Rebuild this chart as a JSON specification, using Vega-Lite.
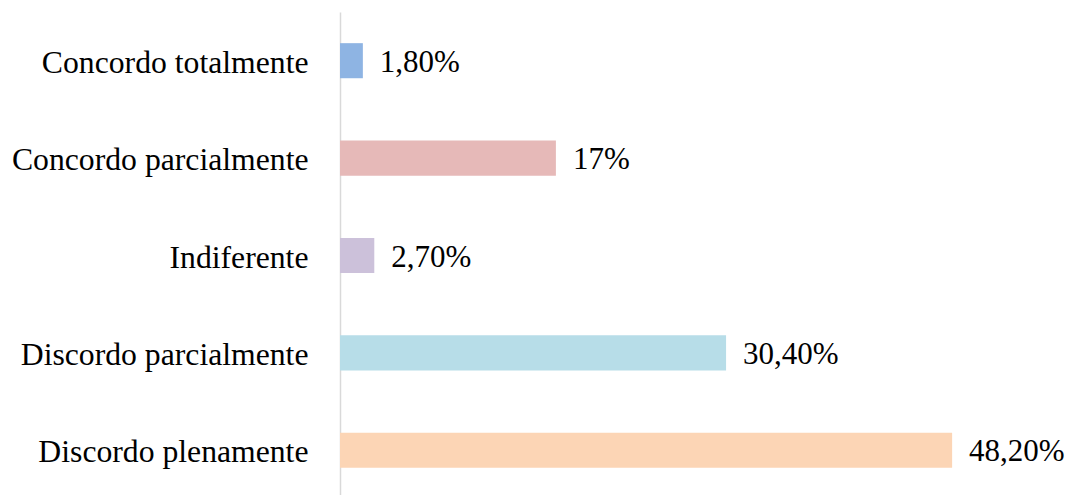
{
  "$schema": "https://vega.github.io/schema/vega-lite/v6.json",
  "width": 700,
  "height": 487,
  "autosize": {"type": "none"},
  "padding": {"left": 340, "top": 12, "right": 30, "bottom": 0},
  "background": "white",
  "config": {"view": {"stroke": null}},
  "data": {
    "values": [
      {"categoria": "Concordo totalmente", "valor": 1.8, "rotulo": "1,80%", "cor": "#8EB4E3"},
      {"categoria": "Concordo parcialmente", "valor": 17, "rotulo": "17%", "cor": "#E6B9B8"},
      {"categoria": "Indiferente", "valor": 2.7, "rotulo": "2,70%", "cor": "#CCC1DA"},
      {"categoria": "Discordo parcialmente", "valor": 30.4, "rotulo": "30,40%", "cor": "#B7DDE8"},
      {"categoria": "Discordo plenamente", "valor": 48.2, "rotulo": "48,20%", "cor": "#FCD5B5"}
    ]
  },
  "encoding": {
    "y": {
      "field": "categoria",
      "type": "nominal",
      "sort": null,
      "scale": {"paddingInner": 0.64, "paddingOuter": 0.32},
      "axis": {
        "title": null,
        "ticks": false,
        "labelFont": "Liberation Serif",
        "labelFontSize": 31.7,
        "labelColor": "#000000",
        "labelPadding": 32,
        "labelOffset": 2,
        "domainColor": "#D9D9D9",
        "domainWidth": 1.5,
        "labelLimit": 400
      }
    },
    "x": {
      "field": "valor",
      "type": "quantitative",
      "scale": {"domain": [0, 55.12], "nice": false},
      "axis": null
    }
  },
  "layer": [
    {
      "mark": {"type": "bar"},
      "encoding": {
        "color": {"field": "cor", "type": "nominal", "scale": null}
      }
    },
    {
      "mark": {"type": "text", "align": "left", "baseline": "middle", "dx": 17, "dy": 2, "font": "Liberation Serif", "fontSize": 31, "color": "#000000"},
      "encoding": {
        "text": {"field": "rotulo", "type": "nominal"}
      }
    }
  ]
}
